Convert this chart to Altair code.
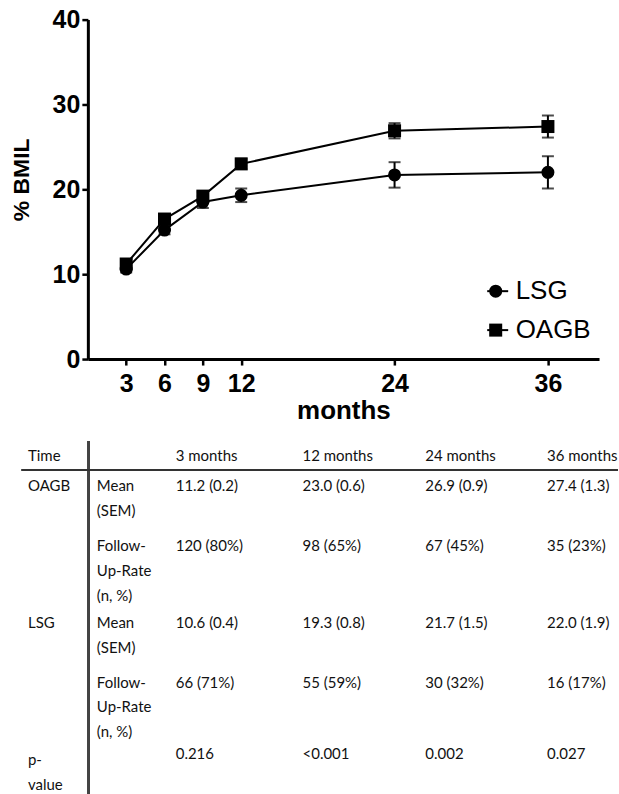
import altair as alt
import pandas as pd

# ---------------- data ----------------
months = [3, 6, 9, 12, 24, 36]
oagb_mean = [11.2, 16.5, 19.2, 23.0, 26.9, 27.4]
oagb_sem = [0.2, 0.4, 0.5, 0.6, 0.9, 1.3]
lsg_mean = [10.6, 15.2, 18.5, 19.3, 21.7, 22.0]
lsg_sem = [0.4, 0.5, 0.7, 0.8, 1.5, 1.9]
groups = ["LSG", "OAGB"]

x_ticks = [3, 6, 9, 12, 24, 36]
y_ticks = [0, 10, 20, 30, 40]

table_times = ["3 months", "12 months", "24 months", "36 months"]
oagb_mean_txt = ["11.2 (0.2)", "23.0 (0.6)", "26.9 (0.9)", "27.4 (1.3)"]
oagb_followup = ["120 (80%)", "98 (65%)", "67 (45%)", "35 (23%)"]
lsg_mean_txt = ["10.6 (0.4)", "19.3 (0.8)", "21.7 (1.5)", "22.0 (1.9)"]
lsg_followup = ["66 (71%)", "55 (59%)", "30 (32%)", "16 (17%)"]
p_values = ["0.216", "<0.001", "0.002", "0.027"]

group_labels = ["Time", "OAGB", "", "LSG", "", "p-\nvalue"]
measure_labels = ["", "Mean\n(SEM)", "Follow-\nUp-Rate\n(n, %)", "Mean\n(SEM)", "Follow-\nUp-Rate\n(n, %)", ""]
row_values = [table_times, oagb_mean_txt, oagb_followup, lsg_mean_txt, lsg_followup, p_values]

# ---------------- layout constants ----------------
PLOT_W, PLOT_H = 512, 340
TABLE_H = 354
ROW_Y = [15, 45, 105, 182, 242, 314]
LINE_H = 25
COL_X = [-60, 9, 88, 215, 338, 460]
P_LABEL_SHIFT = 6
FONT = "Liberation Sans"
TFONT = "Lato"

# ---------------- plot data frame ----------------
recs = []
for g, means, sems in [("LSG", lsg_mean, lsg_sem), ("OAGB", oagb_mean, oagb_sem)]:
    for m, mu, s in zip(months, means, sems):
        recs.append({"month": m, "mean": mu, "lo": mu - s, "hi": mu + s,
                     "group": g, "series": g})
df = pd.DataFrame(recs)

xscale = alt.Scale(domain=[0, 40], nice=False)
yscale = alt.Scale(domain=[0, 40], nice=False)
xaxis = alt.Axis(values=x_ticks, title="months", titleFontSize=26, titleFont=FONT,
                 titleFontWeight="bold", titlePadding=2, labelPadding=6)
yaxis = alt.Axis(values=y_ticks, title="% BMIL", titleFontSize=23, titleFont=FONT,
                 titleFontWeight="bold", titlePadding=19, labelPadding=2, titleY=160)

X = alt.X("month:Q", scale=xscale, axis=xaxis)
base = alt.Chart(df)

err = base.mark_errorbar(ticks={"size": 12, "thickness": 2, "color": "black"},
                         thickness=2, color="black").encode(
    x=X,
    y=alt.Y("lo:Q", scale=yscale, axis=yaxis, title="% BMIL"),
    y2="hi:Q",
    detail="group:N",
)

# stroke legend (the line through each legend symbol), blank labels keep row heights equal
line = base.mark_line(strokeWidth=2).encode(
    x=X,
    y=alt.Y("mean:Q", scale=yscale, axis=yaxis, title="% BMIL"),
    color=alt.Color("group:N", scale=alt.Scale(domain=groups, range=["black", "black"]),
                    legend=alt.Legend(orient="none", legendX=397.5, legendY=259, title=None,
                                      symbolType="stroke", symbolSize=441, symbolStrokeWidth=2,
                                      labelExpr="' '", labelFontSize=26, labelFont=FONT,
                                      rowPadding=13, padding=0, labelOffset=0)),
)

# shape legend with the labels, drawn over the stroke legend
points = base.mark_point(filled=True, color="black", size=170, opacity=1).encode(
    x=X,
    y=alt.Y("mean:Q", scale=yscale, axis=yaxis, title="% BMIL"),
    shape=alt.Shape("series:N", scale=alt.Scale(range=["circle", "square"]),
                    legend=alt.Legend(orient="none", legendX=395.5, legendY=259, title=None,
                                      symbolSize=170, symbolFillColor="black",
                                      symbolStrokeColor="black",
                                      labelFontSize=26, labelFont=FONT, labelColor="black",
                                      rowPadding=13, padding=0, labelOffset=7)),
)

top = alt.layer(err, line, points).properties(width=PLOT_W, height=PLOT_H)

# ---------------- table ----------------
trecs = []
for r in range(len(row_values)):
    cells = [group_labels[r], measure_labels[r]] + list(row_values[r])
    for c, txt in enumerate(cells):
        for li, part in enumerate(txt.split("\n")):
            if part == "":
                continue
            shift = P_LABEL_SHIFT if (r == len(row_values) - 1 and c == 0) else 0
            trecs.append({"text": part, "tx": COL_X[c], "ty": ROW_Y[r] + li * LINE_H + shift})
tdf = pd.DataFrame(trecs)

ttext = alt.Chart(tdf).mark_text(align="left", baseline="middle", font=TFONT,
                                 fontSize=15, color="#111111").encode(
    x=alt.X("tx:Q", scale=alt.Scale(domain=[0, PLOT_W], nice=False), axis=None),
    y=alt.Y("ty:Q", scale=alt.Scale(domain=[0, TABLE_H], nice=False, reverse=True), axis=None),
    text="text:N",
)

vrule = alt.Chart(tdf).mark_rule(color="#444444", strokeWidth=2).encode(
    x=alt.value(1), y=alt.value(0), y2=alt.value(TABLE_H))
hrule = alt.Chart(tdf).mark_rule(color="#333333", strokeWidth=2).encode(
    x=alt.value(-66), x2=alt.value(531), y=alt.value(29))

table = alt.layer(ttext, vrule, hrule).properties(width=PLOT_W, height=TABLE_H)

chart = alt.vconcat(top, table, spacing=16).properties(
    padding={"left": 10, "top": 7, "right": 0, "bottom": 0}
).configure_view(stroke=None).configure_axis(
    grid=False, domainColor="black", domainWidth=3, tickColor="black", tickWidth=2.5,
    tickSize=6, labelFont=FONT, labelFontSize=25, labelFontWeight="bold",
    labelColor="black", titleColor="black",
)

chart.save("out.html", embed_options={"renderer": "svg", "actions": False})
